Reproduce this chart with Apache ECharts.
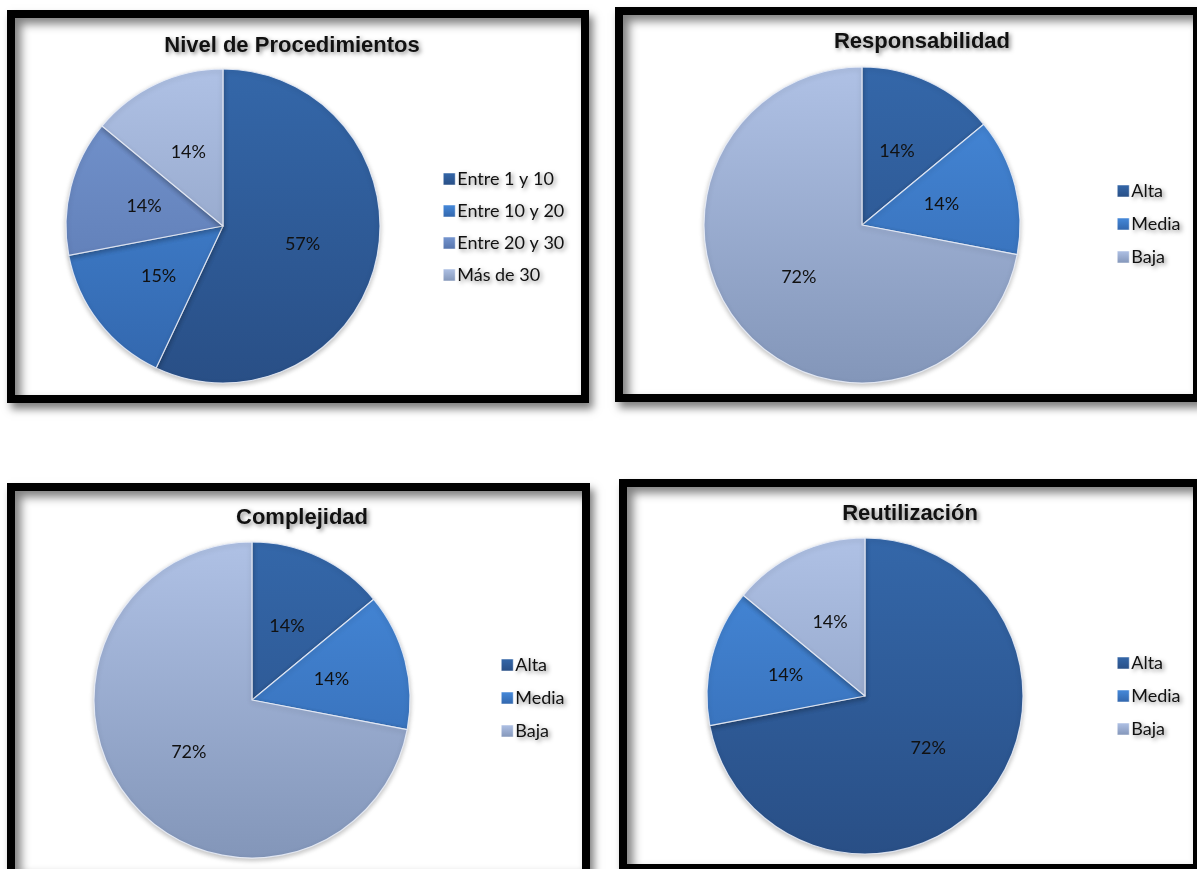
<!DOCTYPE html>
<html>
<head>
<meta charset="utf-8">
<script src="https://cdn.jsdelivr.net/npm/echarts@6/dist/echarts.min.js"></script>
<style>
  html, body { margin: 0; padding: 0; width: 1197px; height: 869px; overflow: hidden; background: #fff; }
  .chart { position: absolute; }
  .frame { position: absolute; box-sizing: border-box; border: 8px solid #000; pointer-events: none;
           box-shadow: inset 6px 6px 10px rgba(0,0,0,0.5), 4px 6px 8px rgba(0,0,0,0.5); }
</style>
</head>
<body>
<script>
// ---- data ----
const chartTitles = ['Nivel de Procedimientos', 'Responsabilidad', 'Complejidad', 'Reutilización'];
const procCategories = ['Entre 1 y 10', 'Entre 10 y 20', 'Entre 20 y 30', 'Más de 30'];
const procValues = [57, 15, 14, 14];
const levelCategories = ['Alta', 'Media', 'Baja'];
const respValues = [14, 14, 72];
const compValues = [14, 14, 72];
const reutValues = [72, 14, 14];

// ---- styling ----
const palette = {
  dark:   ['#3467A9', '#294F86'],
  medium: ['#468ADB', '#3266AC'],
  gray:   ['#7696D0', '#5674AC'],
  light:  ['#AFC1E5', '#8396B9']
};
const procColors = [palette.dark, palette.medium, palette.gray, palette.light];
const levelColors = [palette.dark, palette.medium, palette.light];

const boxes = [
  { left: 7,   top: 10,  width: 582, height: 393, cx: 216, cy: 216, r: 157, tx: 280, ty: 20, lx: 431, ly: 154, gap: 12 },
  { left: 615, top: 7,   width: 586, height: 395, cx: 247, cy: 218, r: 158, tx: 302, ty: 19, lx: 497, ly: 169, gap: 13 },
  { left: 7,   top: 483, width: 583, height: 394, cx: 245, cy: 217, r: 158, tx: 290, ty: 19, lx: 489, ly: 167, gap: 13 },
  { left: 619, top: 479, width: 582, height: 393, cx: 246, cy: 217, r: 158, tx: 286, ty: 19, lx: 493, ly: 169, gap: 13 }
];
const sets = [
  { cats: procCategories, vals: procValues, cols: procColors },
  { cats: levelCategories, vals: respValues, cols: levelColors },
  { cats: levelCategories, vals: compValues, cols: levelColors },
  { cats: levelCategories, vals: reutValues, cols: levelColors }
];

const textShadow = { textShadowColor: 'rgba(0,0,0,0.45)', textShadowBlur: 4, textShadowOffsetX: 2, textShadowOffsetY: 2 };

boxes.forEach((b, i) => {
  const div = document.createElement('div');
  div.className = 'chart';
  Object.assign(div.style, { left: b.left + 'px', top: b.top + 'px', width: b.width + 'px', height: b.height + 'px' });
  document.body.appendChild(div);
  const frame = document.createElement('div');
  frame.className = 'frame';
  Object.assign(frame.style, { left: b.left + 'px', top: b.top + 'px', width: b.width + 'px', height: b.height + 'px' });
  document.body.appendChild(frame);

  const s = sets[i];
  const grad = (c) => new echarts.graphic.LinearGradient(0, b.cy - b.r, 0, b.cy + b.r,
    [{ offset: 0, color: c[0] }, { offset: 1, color: c[1] }], true);

  const chart = echarts.init(div, null, { renderer: 'canvas' });
  chart.setOption({
    backgroundColor: 'transparent',
    animation: false,
    title: {
      text: chartTitles[i], left: b.tx, top: b.ty, textAlign: 'center',
      textStyle: Object.assign({ fontFamily: 'Liberation Sans, Arial, sans-serif', fontWeight: 'bold', fontSize: 22, color: '#111' }, textShadow)
    },
    legend: {
      orient: 'vertical', left: b.lx, top: b.ly, itemWidth: 12, itemHeight: 12, itemGap: b.gap,
      icon: 'rect', selectedMode: false,
      data: s.cats.map((c, k) => ({ name: c, itemStyle: { color: new echarts.graphic.LinearGradient(0, 0, 0, 1,
        [{ offset: 0, color: s.cols[k][0] }, { offset: 1, color: s.cols[k][1] }]), borderColor: '#fff', borderWidth: 0.5 } })),
      textStyle: Object.assign({ fontFamily: 'Lato, Noto Sans, sans-serif', fontSize: 18, color: '#111', padding: [0, 0, 0, -3], lineHeight: 20 }, textShadow)
    },
    series: [{
      type: 'pie',
      center: [b.cx, b.cy],
      radius: [0, b.r],
      startAngle: 90,
      clockwise: true,
      silent: true,
      label: {
        show: true, position: 'inside',
        formatter: (p) => Math.round(p.percent) + '%',
        fontFamily: 'Lato, Noto Sans, sans-serif', fontSize: 18, color: '#111'
      },
      labelLine: { show: false },
      itemStyle: { borderColor: 'rgba(235,240,250,0.85)', borderWidth: 1.2, shadowColor: 'rgba(0,0,0,0.25)', shadowBlur: 5, shadowOffsetY: 2 },
      data: s.cats.map((c, k) => ({ name: c, value: s.vals[k], itemStyle: { color: grad(s.cols[k]) } }))
    }]
  });
});
</script>
</body>
</html>
